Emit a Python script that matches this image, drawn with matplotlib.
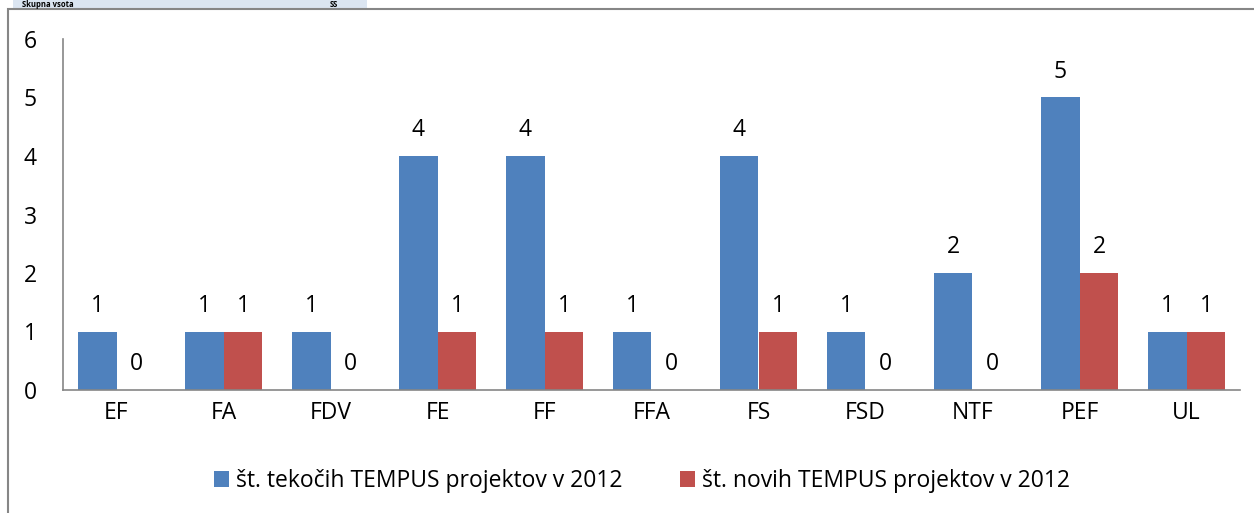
import matplotlib.pyplot as plt
import numpy as np
from matplotlib.patches import Rectangle

# podatki
fakultete = ["EF", "FA", "FDV", "FE", "FF", "FFA", "FS", "FSD", "NTF", "PEF", "UL"]
tekoci = [1, 1, 1, 4, 4, 1, 4, 1, 2, 5, 1]
novi = [0, 1, 0, 1, 1, 0, 1, 0, 0, 2, 1]
ime_tekoci = "št. tekočih TEMPUS projektov v 2012"
ime_novi = "št. novih TEMPUS projektov v 2012"

plt.rcParams['font.family'] = ['Open Sans', 'DejaVu Sans']
fs = 16.5

W, H = 1254, 513
fig = plt.figure(figsize=(W / 100, H / 100), dpi=100)

# okvir in glava
fig.patches.append(Rectangle((13 / W, 1 - 8 / H), (367 - 13) / W, 8 / H,
                             transform=fig.transFigure, facecolor="#dbe5f1",
                             edgecolor="none"))
fig.text(22 / W, 1 - 4.5 / H, "Skupna vsota", fontsize=5.5, fontweight="bold",
         va="center", ha="left")
fig.text(330 / W, 1 - 4.5 / H, "SS", fontsize=5.5, fontweight="bold",
         va="center", ha="left")
fig.patches.append(Rectangle((8 / W, -0.1), 1.2, 1 - 9 / H + 0.1,
                             transform=fig.transFigure, facecolor="none",
                             edgecolor="#868686", linewidth=1.5))

ax = fig.add_axes([63 / W, (H - 390) / H, (1240 - 63) / W, (390 - 39) / H])

x = np.arange(len(fakultete))
w = 0.364
b1 = ax.bar(x - w / 2, tekoci, w, color="#4f81bd", label=ime_tekoci)
b2 = ax.bar(x + w / 2, novi, w, color="#c0504d", label=ime_novi)

for bars in (b1, b2):
    for r in bars:
        v = r.get_height()
        ax.annotate(str(int(v)), (r.get_x() + r.get_width() / 2, v),
                    xytext=(0, 10), textcoords="offset points",
                    ha="center", va="bottom", fontsize=fs)

ax.set_xlim(-0.5, len(fakultete) - 0.5)
ax.set_ylim(0, 6)
ax.set_yticks(range(7))
ax.set_xticks(x)
ax.set_xticklabels(fakultete)
ax.tick_params(axis="y", length=0, pad=19, labelsize=fs)
ax.tick_params(axis="x", length=0, pad=8, labelsize=fs)
for s in ("top", "right"):
    ax.spines[s].set_visible(False)
for s in ("left", "bottom"):
    ax.spines[s].set_color("#868686")
    ax.spines[s].set_linewidth(1.2)

fig.legend(loc="center", bbox_to_anchor=(642 / W, 1 - 481 / H), ncol=2,
           frameon=False, fontsize=fs, handlelength=0.65, handleheight=0.65,
           handletextpad=0.3, columnspacing=2.5)

fig.savefig("out.png", dpi=100)
